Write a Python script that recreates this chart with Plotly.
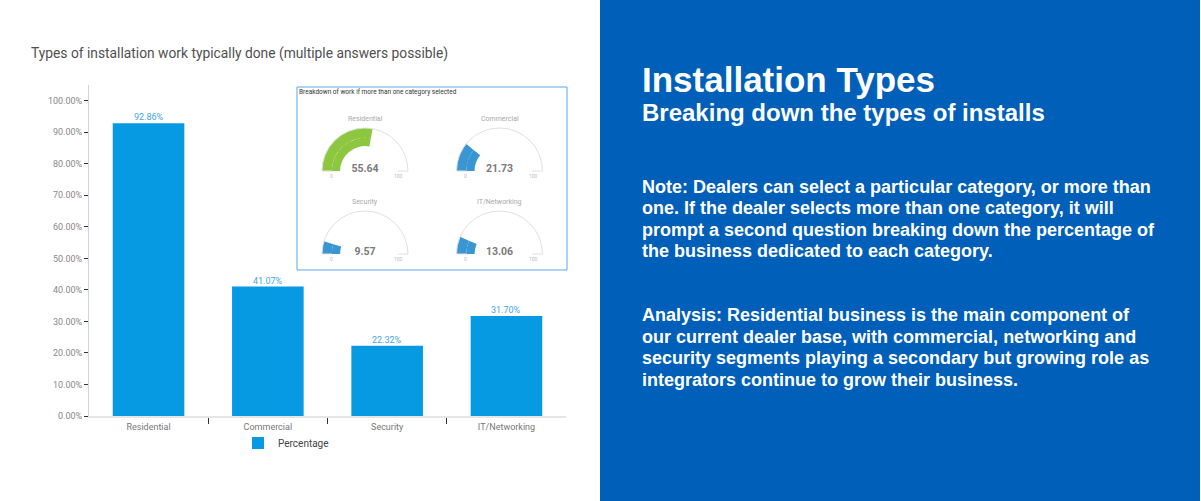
import plotly.graph_objects as go

W, H = 1201, 501
FIG_H = H + 5  # the page draws the figure 5px shorter than asked, so ask a little taller

# bar chart data
categories = ["Residential", "Commercial", "Security", "IT/Networking"]
percentages = [92.86, 41.07, 22.32, 31.70]
y_ticks = [0, 10, 20, 30, 40, 50, 60, 70, 80, 90, 100]

# gauge inset data
gauge_names = ["Residential", "Commercial", "Security", "IT/Networking"]
gauge_values = [55.64, 21.73, 9.57, 13.06]
gauge_range = [0, 100]

# right panel text
panel_title = "Installation Types"
panel_subtitle = "Breaking down the types of installs"
note_lines = [
    "Note: Dealers can select a particular category, or more than",
    "one. If the dealer selects more than one category, it will",
    "prompt a second question breaking down the percentage of",
    "the business dedicated to each category.",
]
analysis_lines = [
    "Analysis: Residential business is the main component of",
    "our current dealer base, with commercial, networking and",
    "security segments playing a secondary but growing role as",
    "integrators continue to grow their business.",
]

chart_title = "Types of installation work typically done (multiple answers possible)"
inset_title = "Breakdown of work if more than one category selected"


def px(x):
    return x / W


def py(y):
    return 1 - y / H


BAR_COLOR = "#069ae3"
LABEL_BLUE = "#45a6e8"
PANEL_BLUE = "#0060b9"
GAUGE_COLORS = ["#8dc63f", "#3996d3", "#3996d3", "#3996d3"]
GAUGE_POS = [(365, 171), (499.5, 171), (365, 254), (499.5, 254)]
GAUGE_R = 43
FONT = "Roboto"

fig = go.Figure()

fig.add_trace(go.Bar(
    x=categories,
    y=percentages,
    name="Percentage",
    marker=dict(color=BAR_COLOR, line=dict(width=0)),
    showlegend=True,
    hovertemplate="%{x}: %{y:.2f}%<extra></extra>",
))

annotations = []

# value labels sitting just on top of each bar
for cat, val in zip(categories, percentages):
    annotations.append(dict(
        x=cat, y=val, xref="x", yref="y", text="%.2f%%" % val,
        showarrow=False, xanchor="center", yanchor="bottom", yshift=-1,
        font=dict(size=9, color=LABEL_BLUE, family=FONT),
    ))

# gauges: an outer gauge plus a smaller one on top to make the band thicker
for i, (name, val) in enumerate(zip(gauge_names, gauge_values)):
    cx, cy = GAUGE_POS[i]
    r = GAUGE_R
    fig.add_trace(go.Indicator(
        mode="gauge",
        value=val,
        domain=dict(x=[px(cx - r), px(cx + r)], y=[py(cy), py(cy - r)]),
        gauge=dict(
            shape="angular",
            axis=dict(range=gauge_range, visible=False),
            bar=dict(color=GAUGE_COLORS[i], thickness=1, line=dict(width=0)),
            bgcolor="white",
            borderwidth=1,
            bordercolor="#e0e0e0",
        ),
    ))
    rb = r * 0.773
    fig.add_trace(go.Indicator(
        mode="gauge",
        value=val,
        domain=dict(x=[px(cx - rb), px(cx + rb)], y=[py(cy), py(cy - rb)]),
        gauge=dict(
            shape="angular",
            axis=dict(range=gauge_range, visible=False),
            bar=dict(color=GAUGE_COLORS[i], thickness=1, line=dict(width=0)),
            bgcolor="white",
            borderwidth=0,
        ),
    ))
    # value read-out in the hole of the gauge
    fig.add_trace(go.Indicator(
        mode="number",
        value=val,
        domain=dict(x=[px(cx - 22), px(cx + 22)], y=[py(cy + 6), py(cy - 12)]),
        number=dict(font=dict(size=10.5, color="#7a7a7a", family=FONT, weight="bold"),
                    valueformat=".2f"),
    ))
    annotations.append(dict(
        x=px(cx), y=py(cy - 52), xref="paper", yref="paper",
        text=name, showarrow=False, xanchor="center", yanchor="middle",
        font=dict(size=7, color="#a8a8a8", family=FONT),
    ))
    for lab, dx in zip(gauge_range, (-0.79, 0.79)):
        annotations.append(dict(
            x=px(cx + dx * r), y=py(cy + 5), xref="paper", yref="paper",
            text=str(lab), showarrow=False, xanchor="center", yanchor="middle",
            font=dict(size=5, color="#bbbbbb", family=FONT),
        ))

annotations.append(dict(
    x=px(29), y=py(54), xref="paper", yref="paper", text=chart_title,
    showarrow=False, xanchor="left", yanchor="middle",
    font=dict(size=13.8, color="#505050", family=FONT),
))
annotations.append(dict(
    x=px(297), y=py(92), xref="paper", yref="paper", text=inset_title,
    showarrow=False, xanchor="left", yanchor="middle",
    font=dict(size=6.5, color="#333333", family=FONT),
))

PANEL_FONT = "Liberation Sans"
annotations.append(dict(
    x=px(640), y=py(79.5), xref="paper", yref="paper", text="<b>%s</b>" % panel_title,
    showarrow=False, xanchor="left", yanchor="middle",
    font=dict(size=35, color="white", family=PANEL_FONT),
))
annotations.append(dict(
    x=px(640), y=py(112.6), xref="paper", yref="paper", text="<b>%s</b>" % panel_subtitle,
    showarrow=False, xanchor="left", yanchor="middle",
    font=dict(size=24, color="white", family=PANEL_FONT),
))
for block, y0 in ((note_lines, 187.0), (analysis_lines, 315.4)):
    for k, line in enumerate(block):
        annotations.append(dict(
            x=px(640), y=py(y0 + k * 21.4), xref="paper", yref="paper",
            text="<b>%s</b>" % line, showarrow=False, xanchor="left", yanchor="middle",
            font=dict(size=18, color="white", family=PANEL_FONT),
        ))

shapes = [
    dict(type="rect", xref="paper", yref="paper", x0=px(600), x1=px(1200), y0=0, y1=1,
         fillcolor=PANEL_BLUE, line=dict(width=0), layer="below"),
    dict(type="rect", xref="paper", yref="paper", x0=px(297), x1=px(567), y0=py(270), y1=py(87),
         fillcolor="white", line=dict(color="#5aa9ee", width=1), layer="below"),
]

fig.update_layout(
    width=W, height=FIG_H, autosize=False,
    margin=dict(l=0, r=0, t=0, b=0),
    paper_bgcolor="white", plot_bgcolor="white",
    bargap=0.4,
    showlegend=True,
    legend=dict(orientation="h", x=px(286), xanchor="center", y=py(443), yanchor="middle",
                bgcolor="rgba(0,0,0,0)", itemwidth=30,
                font=dict(size=10, color="#444444", family=FONT)),
    xaxis=dict(
        domain=[px(89), px(566)],
        range=[-0.499, 3.499],
        tickson="boundaries",
        ticks="outside", ticklen=6, tickcolor="#333333",
        ticklabelstandoff=1,
        showline=True, linecolor="#e6e6e6", linewidth=2,
        tickfont=dict(size=9, color="#777777", family=FONT),
        showgrid=False, zeroline=False, fixedrange=True,
    ),
    yaxis=dict(
        domain=[py(416), py(85)],
        range=[0, 105],
        tickvals=y_ticks,
        ticktext=["%.2f%%" % v for v in y_ticks],
        ticks="outside", ticklen=4, tickcolor="#333333",
        showline=True, linecolor="#d4d4d4", linewidth=1,
        tickfont=dict(size=9, color="#888888", family=FONT),
        showgrid=False, zeroline=False, fixedrange=True,
    ),
    annotations=annotations,
    shapes=shapes,
)

fig.write_html("out.html",
               config={"displayModeBar": False, "responsive": False},
               post_script="document.body.style.margin = '0px';")
